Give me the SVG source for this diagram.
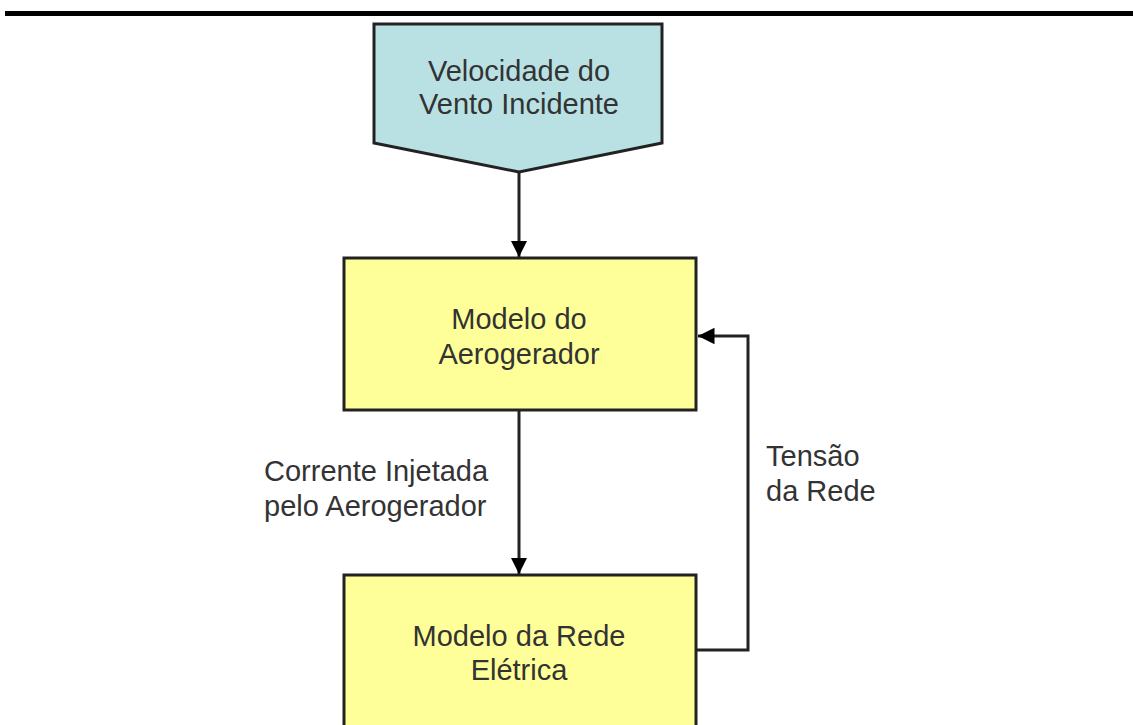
<svg xmlns="http://www.w3.org/2000/svg" width="1133" height="725" viewBox="0 0 1133 725">
<style>
.t{font-family:"Liberation Sans",Arial,sans-serif;font-size:29px;fill:#333;}
.c{text-anchor:middle;}
.box{stroke:#222;stroke-width:3;}
.ln{stroke:#222;stroke-width:3;fill:none;}
</style>
<defs>
<marker id="ah" viewBox="0 0 10 10" refX="10" refY="5" markerWidth="5.5" markerHeight="5.5" orient="auto" markerUnits="strokeWidth">
<path d="M0,0 L10,5 L0,10 Z" fill="#000"/>
</marker>
</defs>
<rect x="5" y="11" width="1128" height="5" fill="#000"/>
<g id="vento">
<polygon class="box" points="374,24 662,24 662,143 519,172 374,143" fill="#b9e1e4"/>
<text class="t c" x="519" y="81">Velocidade do</text>
<text class="t c" x="519" y="114">Vento Incidente</text>
</g>
<g id="aerogerador">
<rect class="box" x="344" y="258" width="352" height="152" fill="#ffff99"/>
<text class="t c" x="519" y="329">Modelo do</text>
<text class="t c" x="519" y="364">Aerogerador</text>
</g>
<g id="rede">
<rect class="box" x="344" y="575" width="352" height="170" fill="#ffff99"/>
<text class="t c" x="519" y="646">Modelo da Rede</text>
<text class="t c" x="519" y="680">Elétrica</text>
</g>
<g id="connectors">
<line class="ln" x1="519" y1="172" x2="519" y2="257" marker-end="url(#ah)"/>
<line class="ln" x1="519" y1="410" x2="519" y2="574" marker-end="url(#ah)"/>
<polyline class="ln" points="697,650 748,650 748,336 698,336" marker-end="url(#ah)"/>
<text class="t" x="264" y="481">Corrente Injetada</text>
<text class="t" x="264" y="516">pelo Aerogerador</text>
<text class="t" x="766" y="466">Tensão</text>
<text class="t" x="766" y="501">da Rede</text>
</g>
</svg>
